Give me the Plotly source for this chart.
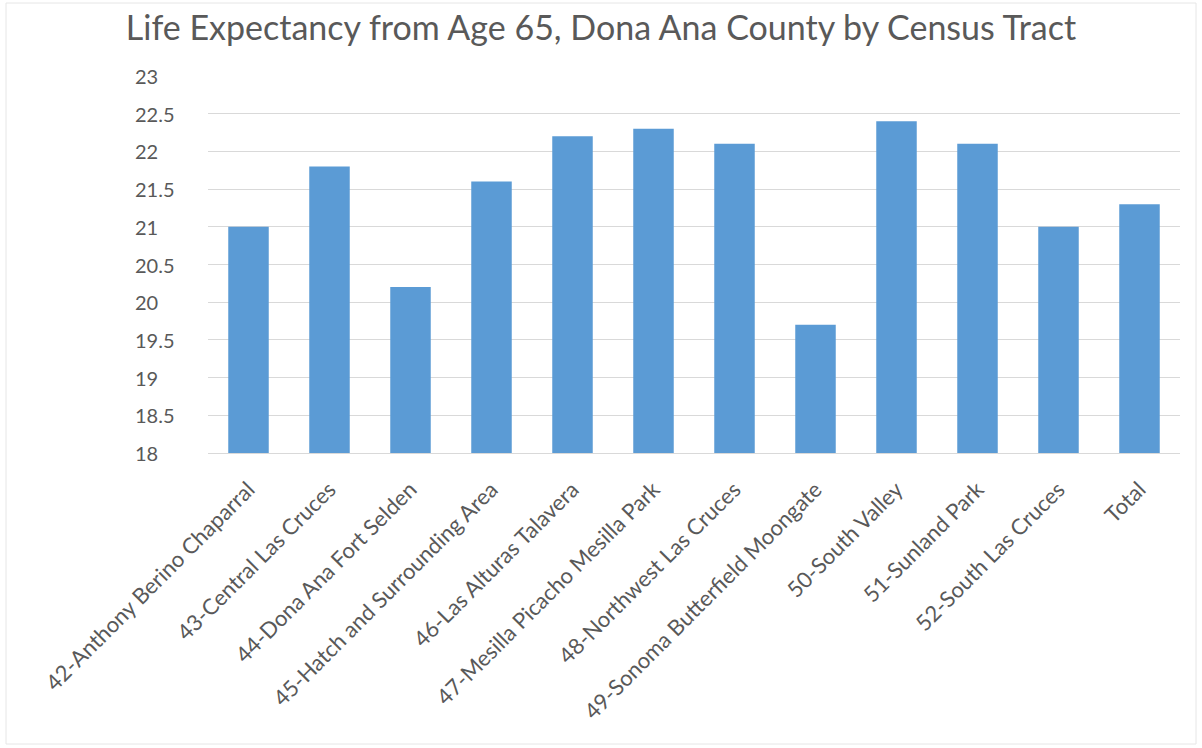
import plotly.graph_objects as go

categories = [
    "42-Anthony Berino Chaparral",
    "43-Central Las Cruces",
    "44-Dona Ana Fort Selden",
    "45-Hatch and Surrounding Area",
    "46-Las Alturas Talavera",
    "47-Mesilla Picacho Mesilla Park",
    "48-Northwest Las Cruces",
    "49-Sonoma Butterfield Moongate",
    "50-South Valley",
    "51-Sunland Park",
    "52-South Las Cruces",
    "Total",
]
life_expectancy = [21.0, 21.8, 20.2, 21.6, 22.2, 22.3, 22.1, 19.7, 22.4, 22.1, 21.0, 21.3]
y_ticks = [18, 18.5, 19, 19.5, 20, 20.5, 21, 21.5, 22, 22.5, 23]
y_tick_text = ["18", "18.5", "19", "19.5", "20", "20.5", "21", "21.5", "22", "22.5", "23"]

FONT = "Lato, 'Open Sans', sans-serif"
TXT = "#595959"

fig = go.Figure(
    go.Bar(
        x=categories,
        y=life_expectancy,
        marker=dict(color="#5B9BD5", line=dict(width=0)),
        hoverinfo="x+y",
    )
)

# left-aligned y tick labels (as in the reference), placed on the y scale
y_annotations = [
    dict(
        x=(133 - 208) / 972,
        xref="paper",
        y=v,
        yref="y",
        text=t,
        showarrow=False,
        xanchor="left",
        yanchor="middle",
        font=dict(family=FONT, size=20, color=TXT),
    )
    for v, t in zip(y_ticks, y_tick_text)
]

fig.update_layout(
    width=1202,
    height=748,
    margin=dict(l=208, r=22, t=76, b=295),
    paper_bgcolor="white",
    plot_bgcolor="white",
    bargap=0.5,
    showlegend=False,
    title=dict(
        text="Life Expectancy from Age 65, Dona Ana County by Census Tract",
        x=0.5,
        xanchor="center",
        y=0.963,
        yanchor="middle",
        font=dict(family=FONT, size=34, color=TXT),
    ),
    xaxis=dict(
        type="category",
        tickangle=-45,
        tickfont=dict(family=FONT, size=22, color=TXT),
        showgrid=False,
        showline=True,
        linecolor="#d9d9d9",
        linewidth=1,
        ticks="",
        ticklen=0,
        ticklabelstandoff=14,
    ),
    yaxis=dict(
        range=[18, 23],
        tickvals=y_ticks,
        showticklabels=False,
        showgrid=True,
        gridcolor="#d9d9d9",
        gridwidth=1,
        zeroline=False,
        showline=False,
        ticks="",
    ),
    annotations=y_annotations,
    shapes=[
        dict(
            type="rect",
            xref="paper",
            yref="paper",
            x0=(6 - 208) / 972,
            x1=(1196 - 208) / 972,
            y0=(453 - 744) / 377,
            y1=(453 - 3) / 377,
            line=dict(color="#e6e6e6", width=1),
            fillcolor="rgba(0,0,0,0)",
            layer="below",
        )
    ],
)

fig.write_html("out.html")
